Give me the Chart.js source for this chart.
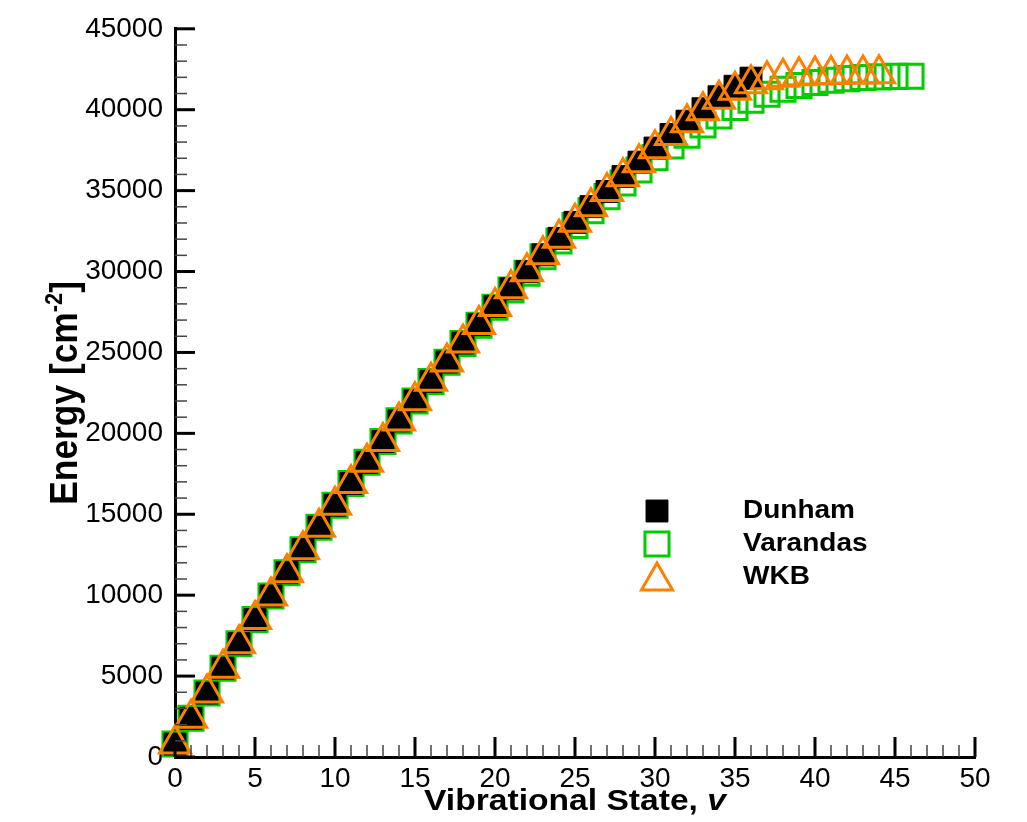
<!DOCTYPE html>
<html>
<head>
<meta charset="utf-8">
<script src="https://cdn.jsdelivr.net/npm/chart.js@4/dist/chart.umd.min.js"></script>
<style>
  body { margin: 0; background: #fff; }
  canvas { display: block; }
</style>
</head>
<body>
<canvas id="chart" width="1027" height="822"></canvas>
<script>
// vibrational levels, energies in cm^-1
const dunhamV = [0,1,2,3,4,5,6,7,8,9,10,11,12,13,14,15,16,17,18,19,20,21,22,23,24,25,26,27,28,29,30,31,32,33,34,35,36];
const dunhamE = [800,2390,3950,5490,7000,8490,9950,11390,12810,14200,15560,16900,18210,19500,20770,22010,23220,24410,25580,26720,27840,28930,29990,31030,32050,33040,34010,34950,35870,36760,37630,38470,39290,40060,40800,41450,41950];

const varandasV = [0,1,2,3,4,5,6,7,8,9,10,11,12,13,14,15,16,17,18,19,20,21,22,23,24,25,26,27,28,29,30,31,32,33,34,35,36,37,38,39,40,41,42,43,44,45,46];
const varandasE = [800,2390,3950,5490,7000,8490,9950,11390,12810,14200,15560,16900,18210,19500,20770,22000,23210,24390,25550,26680,27790,28860,29900,30910,31890,32840,33750,34630,35470,36270,37040,37760,38430,39050,39620,40140,40580,40950,41260,41500,41680,41820,41920,41990,42030,42060,42070];

const wkbV = [0,1,2,3,4,5,6,7,8,9,10,11,12,13,14,15,16,17,18,19,20,21,22,23,24,25,26,27,28,29,30,31,32,33,34,35,36,37,38,39,40,41,42,43,44];
const wkbE = [800,2390,3950,5490,7000,8490,9950,11390,12810,14200,15560,16900,18210,19500,20770,22010,23220,24410,25580,26720,27840,28930,29990,31030,32050,33040,34000,34940,35850,36730,37580,38400,39190,39940,40640,41200,41600,41850,42000,42100,42150,42180,42200,42210,42220];

const xMax = 50, xStep = 5, xMinor = 1;
const yMax = 45000, yStep = 5000, yMinor = 1000;

const green = "#00cc00";
const orange = "#ff8000";
const FONT = "'Liberation Sans', Arial, sans-serif";

function pts(xs, ys) {
    return xs.map((v, i) => ({ x: v, y: ys[i] }));
}

// inward ticks, axis titles and the legend box
const decorations = {
    id: "decorations",
    afterDraw(chart) {
        const { ctx, chartArea, scales } = chart;
        const x = scales.x, y = scales.y;
        ctx.save();
        ctx.lineCap = "butt";
        for (let v = 0; v <= xMax; v += xMinor) {
            const px = x.getPixelForValue(v);
            const major = v % xStep === 0;
            ctx.beginPath();
            ctx.lineWidth = major ? 3 : 1.5;
            ctx.strokeStyle = major ? "#000" : "#444";
            ctx.moveTo(px, chartArea.bottom);
            ctx.lineTo(px, chartArea.bottom - (major ? 20 : 12));
            ctx.stroke();
        }
        for (let v = 0; v <= yMax; v += yMinor) {
            const py = y.getPixelForValue(v);
            const major = v % yStep === 0;
            ctx.beginPath();
            ctx.lineWidth = major ? 3 : 1.5;
            ctx.strokeStyle = major ? "#000" : "#444";
            ctx.moveTo(chartArea.left, py);
            ctx.lineTo(chartArea.left + (major ? 20 : 12), py);
            ctx.stroke();
        }

        // x title with italic v
        ctx.fillStyle = "#000";
        ctx.textBaseline = "alphabetic";
        ctx.textAlign = "left";
        const cx = (chartArea.left + chartArea.right) / 2;
        const sx = 1.12;
        const part1 = "Vibrational State, ";
        ctx.font = "bold 30px " + FONT;
        const w1 = ctx.measureText(part1).width;
        ctx.font = "italic bold 30px " + FONT;
        const w2 = ctx.measureText("v").width;
        ctx.save();
        ctx.translate(cx, 810);
        ctx.scale(sx, 1);
        const start = -(w1 + w2) / 2;
        ctx.font = "bold 30px " + FONT;
        ctx.fillText(part1, start, 0);
        ctx.font = "italic bold 30px " + FONT;
        ctx.fillText("v", start + w1, 0);
        ctx.restore();

        // y title with superscript
        const cy = (chartArea.top + chartArea.bottom) / 2;
        ctx.save();
        ctx.translate(77, cy);
        ctx.rotate(-Math.PI / 2);
        ctx.scale(1.04, 1.12);
        const a = "Energy [cm", b = "-2", c = "]";
        ctx.font = "bold 34px " + FONT;
        const wa = ctx.measureText(a).width, wc = ctx.measureText(c).width;
        ctx.font = "bold 21px " + FONT;
        const wb = ctx.measureText(b).width;
        const s = -(wa + wb + wc) / 2;
        ctx.font = "bold 34px " + FONT;
        ctx.fillText(a, s, 0);
        ctx.font = "bold 21px " + FONT;
        ctx.fillText(b, s + wa, -13);
        ctx.font = "bold 34px " + FONT;
        ctx.fillText(c, s + wa + wb, 0);
        ctx.restore();

        // legend
        const rows = [511, 544, 577];
        ["Dunham", "Varandas", "WKB"].forEach((name, i) => {
            const ds = chart.data.datasets.find(d => d.label === name);
            ctx.save();
            ctx.fillStyle = ds.pointBackgroundColor;
            ctx.strokeStyle = ds.pointBorderColor;
            ctx.lineWidth = ds.pointBorderWidth;
            Chart.helpers.drawPoint(ctx, {
                pointStyle: ds.pointStyle,
                radius: ds.pointRadius,
                rotation: 0,
                borderWidth: ds.pointBorderWidth
            }, 657, rows[i] + (name === "WKB" ? 4 : 0));
            ctx.restore();
            ctx.save();
            ctx.translate(743, rows[i]);
            ctx.scale(sx, 1);
            ctx.fillStyle = "#000";
            ctx.font = "bold 25px " + FONT;
            ctx.textAlign = "left";
            ctx.textBaseline = "middle";
            ctx.fillText(name, 0, 0);
            ctx.restore();
        });
        ctx.restore();
    }
};

const tickFont = { family: FONT, size: 28 };

new Chart(document.getElementById("chart").getContext("2d"), {
    type: "scatter",
    data: {
        datasets: [
            {
                label: "WKB",
                data: pts(wkbV, wkbE),
                pointStyle: "triangle",
                pointRadius: 18,
                pointBackgroundColor: "rgba(0,0,0,0)",
                pointBorderColor: orange,
                pointBorderWidth: 3,
                order: 0,
                clip: false,
            },
            {
                label: "Dunham",
                data: pts(dunhamV, dunhamE),
                pointStyle: "rect",
                pointRadius: 15.5,
                pointBackgroundColor: "#000",
                pointBorderColor: "#000",
                pointBorderWidth: 1,
                order: 1,
                clip: false,
            },
            {
                label: "Varandas",
                data: pts(varandasV, varandasE),
                pointStyle: "rect",
                pointRadius: 17,
                pointBackgroundColor: "rgba(0,0,0,0)",
                pointBorderColor: green,
                pointBorderWidth: 3,
                order: 2,
                clip: false,
            },
        ],
    },
    options: {
        responsive: false,
        animation: false,
        events: [],
        layout: { padding: { left: 0, top: 27, right: 52, bottom: 0 } },
        plugins: {
            legend: { display: false },
            tooltip: { enabled: false },
        },
        scales: {
            x: {
                type: "linear",
                min: 0,
                max: xMax,
                ticks: { stepSize: xStep, font: tickFont, color: "#000", padding: 5, maxRotation: 0,
                         callback: (v) => String(v) },
                grid: { display: false, drawTicks: false },
                border: { display: true, color: "#000", width: 3 },
                afterFit(scale) { scale.height = 65; },
            },
            y: {
                type: "linear",
                min: 0,
                max: yMax,
                ticks: { stepSize: yStep, font: tickFont, color: "#000", padding: 12,
                         callback: (v) => String(v) },
                grid: { display: false, drawTicks: false },
                border: { display: true, color: "#000", width: 3 },
                afterFit(scale) { scale.width = 175; },
            },
        },
    },
    plugins: [decorations],
});
</script>
</body>
</html>
